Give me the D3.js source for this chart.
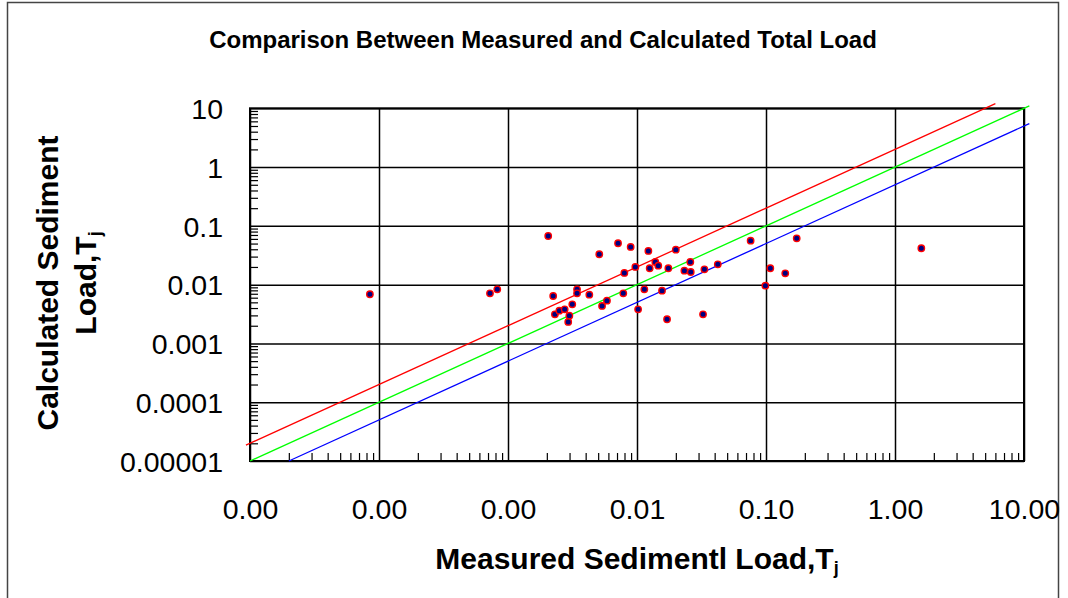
<!DOCTYPE html>
<html>
<head>
<meta charset="utf-8">
<script src="https://cdn.jsdelivr.net/npm/d3@7"></script>
<style>
  body { margin: 0; background: #fff; }
  svg { display: block; font-family: "Liberation Sans", Arial, sans-serif; }
</style>
</head>
<body>
<div id="chart"></div>
<script>
// measured vs calculated load
var measured = [8.5e-5, 7.25e-4, 8.26e-4, 2.05e-3, 2.24e-3, 2.31e-3, 2.50e-3, 2.75e-3, 2.99e-3, 2.93e-3,
                3.15e-3, 3.43e-3, 3.43e-3, 4.27e-3, 5.10e-3, 5.36e-3, 5.85e-3, 7.13e-3, 7.98e-3, 7.83e-3,
                8.93e-3, 9.71e-3, 0.0102, 0.0114, 0.01225, 0.01254, 0.01387, 0.01462, 0.01563, 0.0171,
                0.0175, 0.0200, 0.0233, 0.0259, 0.0261, 0.0325, 0.0333, 0.0423, 0.0760, 0.0989,
                0.108, 0.141, 0.173, 1.60];
var calculated = [6.86e-3, 7.13e-3, 8.34e-3, 0.0673, 6.41e-3, 3.13e-3, 3.61e-3, 3.81e-3, 2.96e-3, 2.32e-3,
                  4.63e-3, 8.34e-3, 7.13e-3, 6.75e-3, 0.0329, 4.34e-3, 5.33e-3, 0.0506, 0.0158, 7.13e-3,
                  0.0438, 0.0200, 3.81e-3, 8.34e-3, 0.0374, 0.0190, 0.0243, 0.0210, 7.89e-3, 2.58e-3,
                  0.0190, 0.0394, 0.0173, 0.0243, 0.0164, 3.13e-3, 0.0182, 0.0222, 0.0560, 9.60e-3,
                  0.0190, 0.0156, 0.0615, 0.0416];

// reference lines: calculated = ratio * measured
var lineRatios = [2, 1, 0.5];
var lineColors = ['#ff0000', '#00ff00', '#0000ff'];
var lineStartX = [9.3e-6, 1e-5, 2e-5];
var lineEndX = [6, 11, 11];

var xTicks = [1e-5, 1e-4, 1e-3, 1e-2, 1e-1, 1, 10];
var xTickLabels = ['0.00', '0.00', '0.00', '0.01', '0.10', '1.00', '10.00'];
var yTicks = [1e-5, 1e-4, 1e-3, 1e-2, 1e-1, 1, 10];
var yTickLabels = ['0.00001', '0.0001', '0.001', '0.01', '0.1', '1', '10'];

var W = 1068, H = 598;
var margin = {top: 108.3, right: 44, bottom: 137, left: 250},
    width = W - margin.left - margin.right,
    height = H - margin.top - margin.bottom;

var svg = d3.select('#chart').append('svg')
    .attr('width', W)
    .attr('height', H);

// outer frame
svg.append('rect')
    .attr('x', 7.5).attr('y', 2.5)
    .attr('width', 1051).attr('height', 640)
    .attr('fill', 'none')
    .attr('stroke', '#444')
    .attr('stroke-width', 1.5);

svg.append('text')
    .attr('x', 543).attr('y', 48)
    .attr('text-anchor', 'middle')
    .style('font-weight', 'bold')
    .style('font-size', '24px')
    .text('Comparison Between Measured and Calculated Total Load');

var g = svg.append('g')
    .attr('transform', 'translate(' + margin.left + ',' + margin.top + ')');

var x = d3.scaleLog().domain([1e-5, 10]).range([0, width]);
var y = d3.scaleLog().domain([1e-5, 10]).range([height, 0]);

// minor ticks 2..9 of each decade
var minor = [];
for (var p = -5; p < 1; p++) {
  for (var k = 2; k <= 9; k++) minor.push(k * Math.pow(10, p));
}

g.append('g')
    .attr('class', 'minor')
    .attr('transform', 'translate(0,' + height + ')')
    .call(d3.axisBottom(x).tickValues(minor).tickSize(-8).tickFormat(''));
g.append('g')
    .attr('class', 'minor')
    .call(d3.axisLeft(y).tickValues(minor).tickSize(-8).tickFormat(''));

// major grid + labels
var xAxis = g.append('g')
    .attr('transform', 'translate(0,' + height + ')')
    .call(d3.axisBottom(x).tickValues(xTicks).tickSize(-height).tickPadding(38)
      .tickFormat(function(d, i) { return xTickLabels[i]; }));
var yAxis = g.append('g')
    .call(d3.axisLeft(y).tickValues(yTicks).tickSize(-width).tickPadding(27)
      .tickFormat(function(d, i) { return yTickLabels[i]; }));

g.selectAll('.domain').remove();
g.selectAll('.tick line').attr('stroke', '#000').attr('stroke-width', 1.5);
g.selectAll('.minor .tick line').attr('stroke-width', 1.2);
xAxis.selectAll('text')
    .style('font-size', '28.5px').attr('fill', '#000')
    .attr('dy', '0.71em');
yAxis.selectAll('text')
    .style('font-size', '28.5px').attr('fill', '#000')
    .attr('dy', '0.36em');

g.append('rect')
    .attr('width', width).attr('height', height)
    .attr('fill', 'none')
    .attr('stroke', '#000')
    .attr('stroke-width', 2);

// ratio lines
lineRatios.forEach(function(r, i) {
  g.append('line')
      .attr('x1', x(lineStartX[i])).attr('y1', y(lineStartX[i] * r))
      .attr('x2', x(lineEndX[i])).attr('y2', y(lineEndX[i] * r))
      .attr('stroke', lineColors[i])
      .attr('stroke-width', 1.3);
});

var pts = measured.map(function(m, i) { return {m: m, c: calculated[i]}; });
g.append('g')
  .selectAll('circle')
  .data(pts)
  .enter()
  .append('circle')
    .attr('cx', function(d) { return x(d.m); })
    .attr('cy', function(d) { return y(d.c); })
    .attr('r', 3.2)
    .attr('fill', '#000080')
    .attr('stroke', '#ff0000')
    .attr('stroke-width', 1.4);

// axis titles
var xt = svg.append('text')
    .attr('x', 637).attr('y', 569)
    .attr('text-anchor', 'middle')
    .style('font-weight', 'bold')
    .style('font-size', '30px');
xt.append('tspan').text('Measured Sedimentl Load,T');
xt.append('tspan').attr('dy', 5).style('font-size', '18px').text('j');

var yt = svg.append('text')
    .attr('transform', 'translate(58,283) rotate(-90)')
    .attr('text-anchor', 'middle')
    .style('font-weight', 'bold')
    .style('font-size', '30px');
yt.append('tspan').attr('x', 0).attr('y', 0).text('Calculated Sediment');
var yt2 = svg.append('text')
    .attr('transform', 'translate(96,283) rotate(-90)')
    .attr('text-anchor', 'middle')
    .style('font-weight', 'bold')
    .style('font-size', '30px');
yt2.append('tspan').text('Load,T');
yt2.append('tspan').attr('dy', 5).style('font-size', '18px').text('j');
</script>
</body>
</html>
